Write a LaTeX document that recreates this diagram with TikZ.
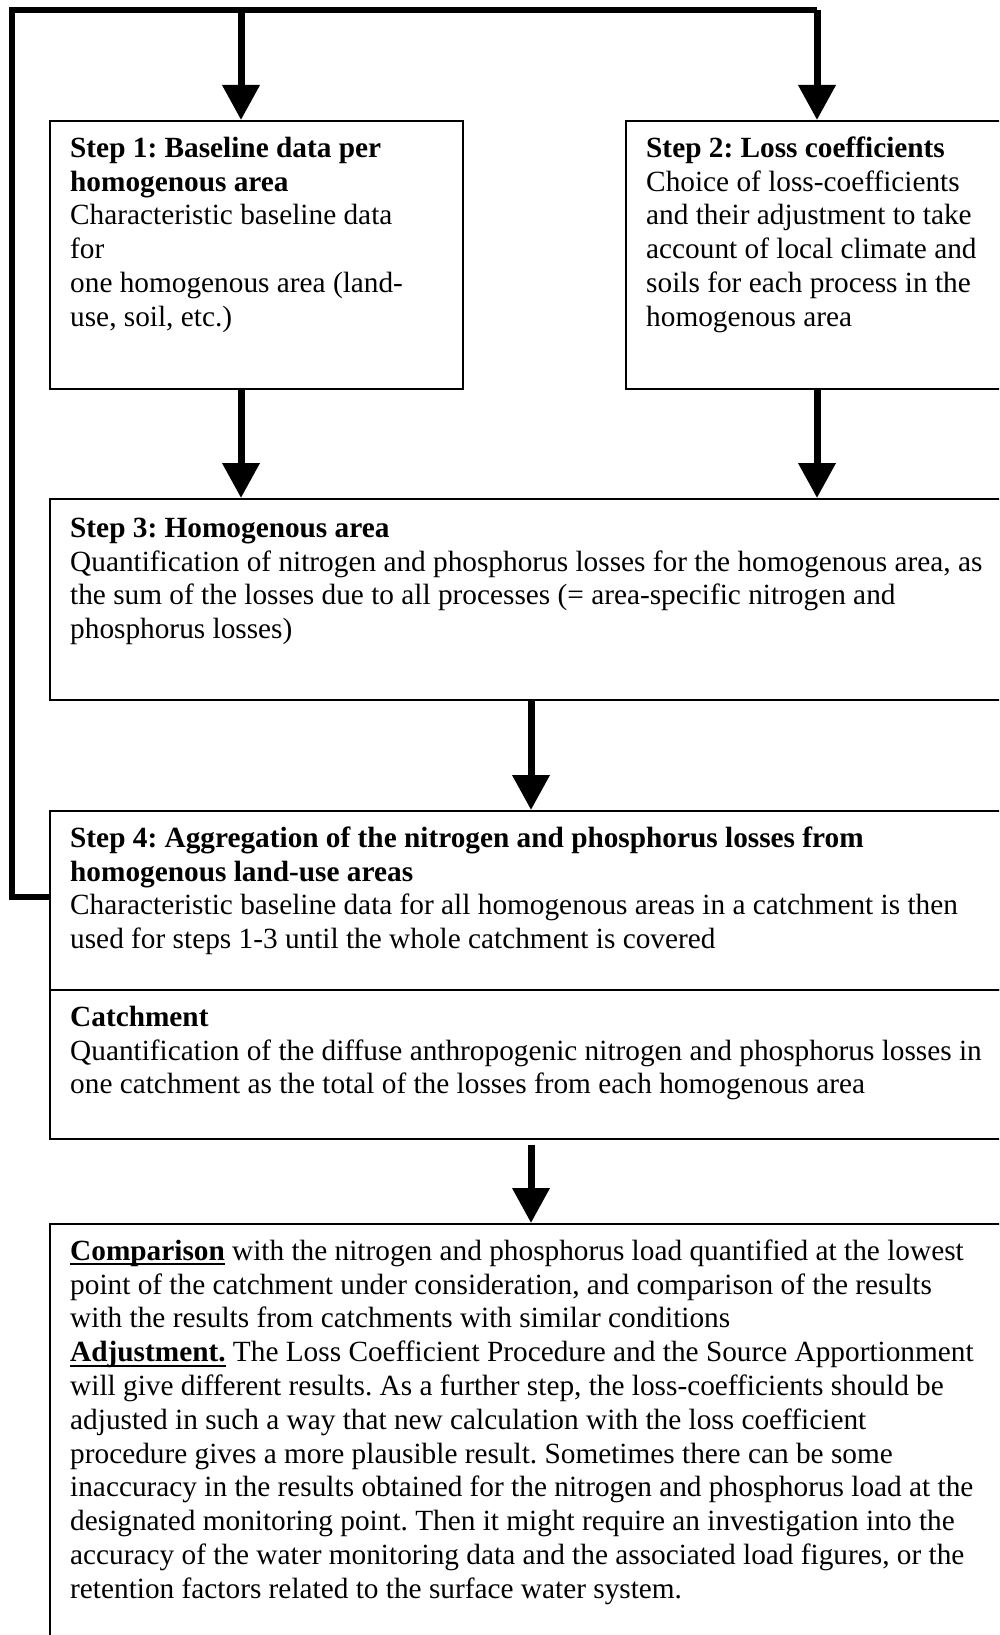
\documentclass[tikz,border=0pt]{standalone}
\usepackage{fontspec}
\setmainfont{Liberation Serif}
\usetikzlibrary{arrows.meta,calc}

% bold heading with a rule underneath
\newcommand\ulbold[1]{\setbox0\hbox{\bfseries #1}\rlap{\rule[-5pt]{\wd0}{2pt}}\box0\relax}
% strut that fixes the top of every text block
\newcommand\topstrut{\rule{0pt}{24pt}}

\tikzset{
  boxst/.style={draw, line width=1.6pt, anchor=north west, inner sep=0pt, fill=white},
  txt/.style={anchor=north west, inner sep=0pt, align=left,
    font=\fontsize{29.3}{33.8}\selectfont\frenchspacing},
  flow/.style={line width=7pt, -{Triangle[width=36pt,length=35pt]}},
  loop/.style={line width=6pt, line join=miter}
}

\begin{document}
\begin{tikzpicture}[x=1pt,y=1pt]
\clip (0,0) rectangle (999,-1635);
\fill[white] (0,0) rectangle (999,-1635);

% boxes
\node[boxst, minimum width=413, minimum height=268] (s1) at (49,-120) {};
\node[boxst, minimum width=400, minimum height=268] (s2) at (625,-120) {};
\node[boxst, minimum width=970, minimum height=201] (s3) at (49,-498) {};
\node[boxst, minimum width=970, minimum height=179] (s4) at (49,-810) {};
\node[boxst, minimum width=970, minimum height=149] (s5) at (49,-989) {};
\node[boxst, minimum width=970, minimum height=430] (s6) at (49,-1223) {};

% texts
\node[txt] (t1) at (70,-133) {\topstrut\textbf{Step 1: Baseline data per}\\
\textbf{homogenous area}\\
Characteristic baseline data\\
for\\
one homogenous area (land-\\
use, soil, etc.)};

\node[txt] (t2) at (646,-133) {\topstrut\textbf{Step 2: Loss coefficients}\\
Choice of loss-coefficients\\
and their adjustment to take\\
account of local climate and\\
soils for each process in the\\
homogenous area};

\node[txt] (t3) at (70,-513) {\topstrut\textbf{Step 3: Homogenous area}\\
Quantification of nitrogen and phosphorus losses for the homogenous area, as\\
the sum of the losses due to all processes (= area-specific nitrogen and\\
phosphorus losses)};

\node[txt] (t4) at (70,-823) {\topstrut\textbf{Step 4: Aggregation of the nitrogen and phosphorus losses from}\\
\textbf{homogenous land-use areas}\\
Characteristic baseline data for all homogenous areas in a catchment is then\\
used for steps 1-3 until the whole catchment is covered};

\node[txt] (t5) at (70,-1002) {\topstrut\textbf{Catchment}\\
Quantification of the diffuse anthropogenic nitrogen and phosphorus losses in\\
one catchment as the total of the losses from each homogenous area};

\node[txt] (t6) at (70,-1236) {\topstrut\ulbold{Comparison} with the nitrogen and phosphorus load quantified at the lowest\\
point of the catchment under consideration, and comparison of the results\\
with the results from catchments with similar conditions\\
\ulbold{Adjustment.} The Loss Coefficient Procedure and the Source Apportionment\\
will give different results. As a further step, the loss-coefficients should be\\
adjusted in such a way that new calculation with the loss coefficient\\
procedure gives a more plausible result. Sometimes there can be some\\
inaccuracy in the results obtained for the nitrogen and phosphorus load at the\\
designated monitoring point. Then it might require an investigation into the\\
accuracy of the water monitoring data and the associated load figures, or the\\
retention factors related to the surface water system.};

% feedback loop from step 4 back to steps 1 and 2
\coordinate (ret) at ($(s4.north west)+(0,-87)$);
\coordinate (cl) at (12,-10.5);
\coordinate (xa) at (241,-10.5);
\coordinate (xb) at (817,-10.5);
\draw[loop] (ret) -- (ret -| cl) -- (cl) -- (xb);
\draw[flow] (xb) -- (xb |- s2.north);
\draw[flow] (xa) -- (xa |- s1.north);

% downward flow
\coordinate (xc) at (531,0);
\draw[flow] (xa |- s1.south) -- (xa |- s3.north);
\draw[flow] (xb |- s2.south) -- (xb |- s3.north);
\draw[flow] (xc |- s3.south) -- (xc |- s4.north);
\draw[flow] ($(xc |- s5.south)+(0,-5)$) -- (xc |- s6.north);
\end{tikzpicture}
\end{document}
